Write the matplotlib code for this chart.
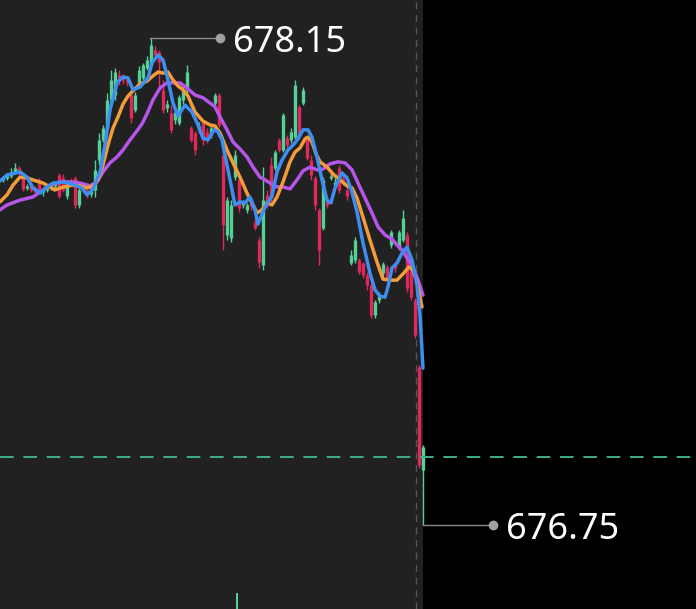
import matplotlib
matplotlib.use("Agg")
import matplotlib.pyplot as plt
import numpy as np

# ---- candle data (index, open, high, low, close) ----
opens = [677.743, 677.748, 677.754, 677.766, 677.777, 677.757, 677.720, 677.725, 677.720, 677.743,
         677.708, 677.714, 677.720, 677.725, 677.757, 677.748, 677.697, 677.737, 677.748, 677.671,
         677.714, 677.714, 677.702, 677.714, 677.800, 677.858, 677.892, 677.973, 677.987, 678.044,
         678.036, 678.030, 677.987, 677.944, 678.021, 678.036, 678.064, 678.073, 678.116, 678.110,
         678.001, 677.950, 677.935, 677.915, 677.906, 677.973, 678.001, 677.892, 677.878, 677.886,
         677.906, 677.881, 677.872, 677.964, 677.987, 677.814, 677.584, 677.576, 677.751, 677.743,
         677.671, 677.656, 677.676, 677.622, 677.570, 677.498, 677.699, 677.786, 677.777, 677.858,
         677.829, 677.863, 677.858, 677.866, 677.952, 677.964, 677.866, 677.800, 677.748, 677.656,
         677.605, 677.685, 677.748, 677.728, 677.777, 677.748, 677.714, 677.504, 677.513, 677.513,
         677.504, 677.469, 677.441, 677.354, 677.398, 677.475, 677.492, 677.556, 677.498, 677.547,
         677.570, 677.584, 677.490, 677.398, 677.205, 676.909]
highs = [677.754, 677.763, 677.777, 677.791, 677.783, 677.760, 677.731, 677.728, 677.725, 677.748,
         677.720, 677.725, 677.731, 677.737, 677.763, 677.760, 677.743, 677.748, 677.754, 677.725,
         677.728, 677.720, 677.731, 677.800, 677.878, 677.901, 677.993, 678.059, 678.064, 678.059,
         678.047, 678.041, 677.993, 677.996, 678.070, 678.079, 678.099, 678.150, 678.128, 678.116,
         678.030, 677.973, 677.958, 677.950, 677.987, 678.013, 678.073, 677.898, 677.883, 677.909,
         677.915, 677.892, 677.904, 677.993, 677.993, 677.829, 677.694, 677.685, 677.829, 677.751,
         677.685, 677.676, 677.685, 677.633, 677.579, 677.780, 677.714, 677.809, 677.829, 677.863,
         677.935, 677.872, 677.892, 678.030, 677.958, 678.010, 677.872, 677.814, 677.754, 677.662,
         677.751, 677.697, 677.766, 677.748, 677.786, 677.757, 677.725, 677.541, 677.579, 677.518,
         677.507, 677.478, 677.446, 677.398, 677.421, 677.507, 677.498, 677.599, 677.507, 677.599,
         677.656, 677.593, 677.495, 677.403, 677.211, 676.981]
lows = [677.737, 677.743, 677.748, 677.760, 677.757, 677.711, 677.714, 677.708, 677.699, 677.705,
        677.697, 677.708, 677.714, 677.720, 677.691, 677.708, 677.688, 677.725, 677.662, 677.662,
        677.708, 677.691, 677.694, 677.694, 677.786, 677.852, 677.886, 677.958, 677.973, 678.016,
        678.019, 678.013, 677.906, 677.938, 678.016, 678.030, 678.059, 678.067, 678.093, 678.007,
        677.935, 677.938, 677.878, 677.904, 677.901, 677.961, 677.987, 677.852, 677.814, 677.878,
        677.843, 677.849, 677.863, 677.958, 677.895, 677.541, 677.570, 677.564, 677.743, 677.651,
        677.662, 677.648, 677.656, 677.599, 677.490, 677.484, 677.662, 677.676, 677.771, 677.823,
        677.823, 677.835, 677.849, 677.860, 677.860, 677.958, 677.800, 677.743, 677.656, 677.498,
        677.599, 677.662, 677.743, 677.720, 677.705, 677.728, 677.685, 677.498, 677.504, 677.472,
        677.461, 677.426, 677.346, 677.346, 677.389, 677.467, 677.452, 677.547, 677.478, 677.541,
        677.564, 677.421, 677.398, 677.288, 676.915, 676.751]
closes = [677.748, 677.754, 677.766, 677.777, 677.766, 677.717, 677.725, 677.714, 677.708, 677.714,
          677.714, 677.720, 677.725, 677.731, 677.697, 677.714, 677.737, 677.731, 677.671, 677.714,
          677.720, 677.702, 677.725, 677.771, 677.858, 677.892, 677.973, 678.030, 678.053, 678.036,
          678.030, 678.024, 677.921, 677.987, 678.059, 678.073, 678.088, 678.131, 678.102, 678.082,
          677.944, 677.961, 677.886, 677.938, 677.981, 678.001, 678.053, 677.858, 677.829, 677.898,
          677.858, 677.858, 677.892, 677.987, 677.901, 677.613, 677.685, 677.671, 677.814, 677.662,
          677.676, 677.671, 677.668, 677.605, 677.507, 677.685, 677.671, 677.691, 677.823, 677.829,
          677.929, 677.843, 677.881, 678.016, 677.866, 678.001, 677.806, 677.757, 677.671, 677.541,
          677.743, 677.671, 677.754, 677.737, 677.714, 677.737, 677.697, 677.527, 677.570, 677.478,
          677.469, 677.441, 677.354, 677.392, 677.409, 677.501, 677.461, 677.593, 677.490, 677.593,
          677.633, 677.432, 677.406, 677.297, 676.923, 676.975]

# ---- moving averages (bar position, value) ----
blue_x = [-0.75, 1.0, 4.25, 6.0, 7.5, 9.25, 11.0, 12.5, 15.5, 18.0,
          19.75, 21.0, 22.5, 24.25, 25.5, 26.75, 28.5, 30.0, 31.25, 32.5,
          34.25, 36.25, 37.25, 38.75, 40.0, 41.25, 42.5, 43.75, 45.5, 47.25,
          48.75, 50.0, 51.25, 52.75, 53.75, 54.75, 55.75, 56.75, 58.0, 59.25,
          60.5, 61.75, 63.0, 63.75, 65.5, 67.25, 68.5, 69.75, 71.25, 72.75,
          73.75, 75.0, 76.25, 77.25, 78.5, 79.75, 81.0, 82.0, 83.0, 84.75,
          86.0, 87.25, 88.5, 90.0, 91.75, 93.0, 94.25, 95.5, 96.25, 97.25,
          98.5, 99.75, 101.0, 102.25, 103.5, 104.25, 105.0]
blue_v = [677.739, 677.756, 677.765, 677.750, 677.719, 677.704, 677.722, 677.733, 677.736, 677.727,
          677.719, 677.699, 677.716, 677.765, 677.842, 677.943, 678.021, 678.038, 678.035, 678.001,
          678.009, 678.035, 678.078, 678.101, 678.087, 678.029, 677.963, 677.926, 677.957, 677.937,
          677.900, 677.862, 677.857, 677.886, 677.880, 677.857, 677.799, 677.742, 677.670, 677.679,
          677.676, 677.693, 677.656, 677.615, 677.664, 677.696, 677.765, 677.799, 677.828, 677.845,
          677.860, 677.886, 677.886, 677.865, 677.808, 677.742, 677.684, 677.676, 677.719, 677.762,
          677.748, 677.707, 677.650, 677.561, 677.474, 677.426, 677.408, 677.405, 677.434, 677.489,
          677.503, 677.532, 677.549, 677.512, 677.440, 677.354, 677.201]

orange_x = [-0.75, 1.0, 2.5, 4.25, 6.0, 7.5, 10.0, 11.75, 13.0, 14.25,
            17.25, 19.25, 21.0, 22.5, 23.75, 25.0, 26.25, 27.5, 28.75, 30.0,
            31.25, 32.5, 34.25, 36.0, 37.5, 38.75, 40.0, 41.25, 42.5, 43.75,
            45.0, 46.25, 48.0, 50.0, 51.75, 53.0, 54.25, 56.0, 57.5, 59.25,
            61.0, 62.25, 63.5, 64.75, 66.0, 67.25, 68.5, 70.0, 71.75, 73.0,
            74.25, 75.5, 76.25, 77.25, 78.25, 79.25, 81.0, 82.5, 84.25, 86.0,
            87.25, 88.5, 90.0, 91.75, 93.5, 95.0, 96.75, 98.5, 100.0, 101.5,
            102.5, 103.5, 104.75]
orange_v = [677.679, 677.699, 677.727, 677.750, 677.748, 677.742, 677.733, 677.722, 677.713, 677.719,
            677.727, 677.725, 677.719, 677.725, 677.742, 677.785, 677.842, 677.891, 677.923, 677.960,
            677.983, 677.998, 678.018, 678.026, 678.041, 678.052, 678.049, 678.052, 678.029, 678.012,
            678.001, 677.983, 677.937, 677.911, 677.900, 677.897, 677.877, 677.828, 677.791, 677.750,
            677.704, 677.676, 677.647, 677.656, 677.676, 677.670, 677.693, 677.736, 677.794, 677.822,
            677.834, 677.860, 677.865, 677.851, 677.817, 677.794, 677.779, 677.759, 677.742, 677.725,
            677.719, 677.690, 677.635, 677.569, 677.506, 677.457, 677.454, 677.454, 677.472, 677.492,
            677.483, 677.449, 677.377]

purple_x = [-0.75, 1.0, 4.25, 7.5, 9.25, 11.75, 14.25, 17.25, 19.25, 21.75,
            23.5, 25.0, 26.75, 28.5, 30.0, 31.75, 33.5, 34.75, 36.0, 37.5,
            39.25, 41.0, 42.5, 44.25, 46.0, 48.0, 50.0, 51.75, 53.0, 54.25,
            56.0, 57.5, 59.25, 61.0, 62.5, 64.25, 65.5, 66.75, 68.5, 70.0,
            71.75, 73.5, 75.0, 76.75, 78.5, 80.0, 81.75, 83.75, 85.5, 87.25,
            88.75, 90.5, 92.25, 93.75, 95.5, 97.25, 98.5, 99.75, 101.0, 102.5,
            103.75, 105.0]
purple_v = [677.656, 677.670, 677.684, 677.693, 677.707, 677.727, 677.736, 677.736, 677.733, 677.725,
            677.736, 677.765, 677.791, 677.808, 677.828, 677.857, 677.883, 677.903, 677.932, 677.972,
            678.006, 678.021, 678.021, 678.021, 678.006, 677.986, 677.978, 677.963, 677.952, 677.923,
            677.886, 677.851, 677.831, 677.808, 677.779, 677.750, 677.742, 677.733, 677.722, 677.722,
            677.716, 677.742, 677.768, 677.779, 677.771, 677.773, 677.788, 677.794, 677.791, 677.771,
            677.733, 677.690, 677.647, 677.607, 677.584, 677.572, 677.555, 677.541, 677.518, 677.492,
            677.454, 677.411]

high_label = "678.15"
low_label = "676.75"
high_idx, high_val = 37, 678.15
low_idx, low_val = 105, 676.75
current_price = 676.946
session_mark = 103.25
volume_idx = [58.5]
volume_val = [1.0]

# ---- colors ----
UP = "#55d197"
DOWN = "#e0295a"
BG_ACTIVE = "#212121"
BG_RIGHT = "#000000"

fig = plt.figure(figsize=(6.96, 6.09), dpi=100)
fig.patch.set_facecolor(BG_RIGHT)
ax = fig.add_axes([0, 0, 1, 1])
ax.set_facecolor(BG_RIGHT)
ax.set_xlim(-0.75, 173.25)
ax.set_ylim(676.509, 678.259)
ax.axis("off")

n = len(opens)
idx = np.arange(n)
ax.axvspan(-0.75, n - 1, color=BG_ACTIVE, zorder=0, lw=0)

o = np.array(opens); c = np.array(closes); h = np.array(highs); l = np.array(lows)
cols = [UP if cc >= oo else DOWN for oo, cc in zip(o, c)]
ax.vlines(idx, l, h, colors=cols, lw=1.0, zorder=2)
ax.vlines(idx, np.minimum(o, c), np.maximum(o, c), colors=cols, lw=2.4, zorder=2)

# volume spike (bottom)
vax = ax.twinx()
vax.set_ylim(0, 1.0 / 0.026)
vax.axis("off")
vax.bar(volume_idx, volume_val, width=0.6, color=UP, zorder=1)
vax.set_xlim(ax.get_xlim())

ax.plot(purple_x, purple_v, color="#b655ea", lw=2.5, zorder=3, solid_joinstyle="round", solid_capstyle="round")
ax.plot(orange_x, orange_v, color="#f49b3a", lw=2.5, zorder=4, solid_joinstyle="round", solid_capstyle="round")
ax.plot(blue_x, blue_v, color="#3d8ef0", lw=2.5, zorder=5, solid_joinstyle="round", solid_capstyle="round")

ax.axvline(session_mark, color="#555555", lw=1.0, ls=(0, (5, 4)), zorder=1)
ax.axhline(current_price, color="#3fae8c", lw=1.4, ls=(0, (7, 5)), zorder=6)

# high / low labels
ax.plot([high_idx - 0.25, high_idx + 17.25], [high_val, high_val], color="#8a8a8a", lw=1.0, zorder=7)
ax.plot([high_idx + 17.25], [high_val], "o", color="#a0a0a0", ms=6, zorder=7)
ax.text(high_idx + 20.5, high_val - 0.014, high_label, color="white", fontsize=26,
        family=["Noto Sans", "DejaVu Sans"], va="center", ha="left", zorder=8)

ax.plot([low_idx, low_idx + 17.5], [low_val, low_val], color="#8a8a8a", lw=1.0, zorder=7)
ax.plot([low_idx + 17.5], [low_val], "o", color="#a0a0a0", ms=6, zorder=7)
ax.text(low_idx + 20.75, low_val - 0.014, low_label, color="white", fontsize=26,
        family=["Noto Sans", "DejaVu Sans"], va="center", ha="left", zorder=8)

fig.savefig("out.png", dpi=100, facecolor=fig.get_facecolor())
